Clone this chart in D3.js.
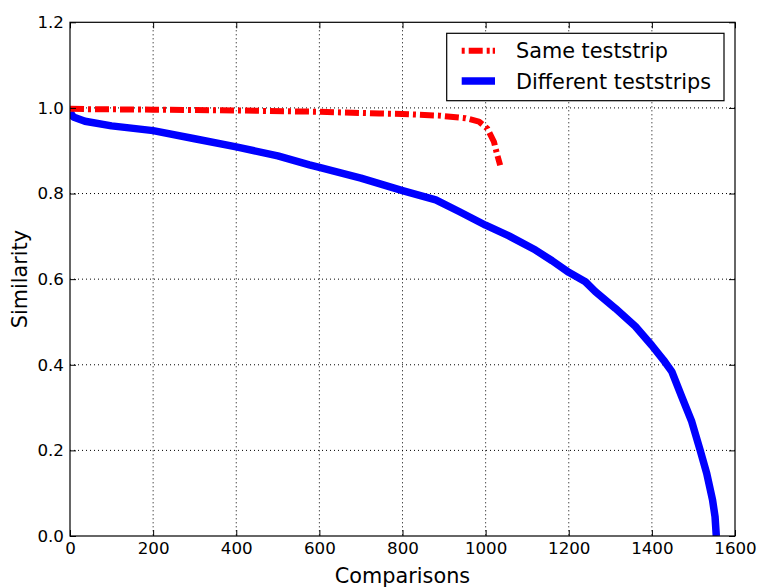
<!DOCTYPE html>
<html>
<head>
<meta charset="utf-8">
<script src="https://cdn.jsdelivr.net/npm/d3@7"></script>
<style>
  html, body { margin: 0; padding: 0; background: #fff; }
  svg { display: block; font-family: "DejaVu Sans", sans-serif; }
</style>
</head>
<body>
<svg id="chart" width="762" height="587"></svg>
<script>
// Similarity scores sorted in descending order, sampled along the comparison index
const sameComparisons = [0, 50, 200, 400, 600, 744, 800, 888, 952, 984, 1004, 1020, 1028, 1035];
const sameSimilarity  = [0.998, 0.997, 0.996, 0.994, 0.991, 0.987, 0.986, 0.982, 0.976, 0.968, 0.952, 0.921, 0.890, 0.866];

const diffComparisons = [0, 8, 36, 100, 200, 300, 400, 500, 576, 600, 700, 800, 880, 936, 1000, 1056, 1120, 1160, 1200, 1240, 1264, 1312, 1360, 1400, 1428, 1448, 1472, 1496, 1516, 1532, 1546, 1552, 1555];
const diffSimilarity  = [0.99, 0.979, 0.969, 0.958, 0.947, 0.928, 0.909, 0.888, 0.867, 0.861, 0.836, 0.807, 0.785, 0.758, 0.726, 0.701, 0.668, 0.643, 0.616, 0.594, 0.571, 0.532, 0.490, 0.445, 0.411, 0.384, 0.325, 0.267, 0.201, 0.146, 0.084, 0.045, 0.0];

const xTicks = [0, 200, 400, 600, 800, 1000, 1200, 1400, 1600];
const yTicks = [0.0, 0.2, 0.4, 0.6, 0.8, 1.0, 1.2];

const seriesNames = ["Same teststrip", "Different teststrips"];

const svg = d3.select("#chart");
const plotLeft = 70, plotRight = 735, plotTop = 22.3, plotBottom = 536;

const x = d3.scaleLinear().domain([0, 1600]).range([plotLeft, plotRight]);
const y = d3.scaleLinear().domain([0, 1.2]).range([plotBottom, plotTop]);

// Dotted grid
const grid = svg.append("g");
grid.selectAll("line.gx").data(xTicks.slice(1, -1)).join("line")
  .attr("x1", d => x(d)).attr("x2", d => x(d))
  .attr("y1", plotTop).attr("y2", plotBottom)
  .attr("stroke", "#000").attr("stroke-width", 1).attr("stroke-dasharray", "1,3");
grid.selectAll("line.gy").data(yTicks.slice(1, -1)).join("line")
  .attr("x1", plotLeft).attr("x2", plotRight)
  .attr("y1", d => y(d)).attr("y2", d => y(d))
  .attr("stroke", "#000").attr("stroke-width", 1).attr("stroke-dasharray", "1,3");

// Curves
const plot = svg.append("g");
plot.append("defs").append("clipPath").attr("id", "clip")
  .append("rect").attr("x", plotLeft).attr("y", plotTop)
  .attr("width", plotRight - plotLeft).attr("height", plotBottom - plotTop);

const line = d3.line().x(d => x(d[0])).y(d => y(d[1]));

const diffData = diffComparisons.map((c, i) => [c, diffSimilarity[i]]);
const sameData = sameComparisons.map((c, i) => [c, sameSimilarity[i]]);

plot.append("path").datum(diffData)
  .attr("clip-path", "url(#clip)")
  .attr("d", line).attr("fill", "none")
  .attr("stroke", "#0000ff").attr("stroke-width", 7.5)
  .attr("stroke-linejoin", "round").attr("stroke-linecap", "butt");

plot.append("path").datum(sameData)
  .attr("clip-path", "url(#clip)")
  .attr("d", line).attr("fill", "none")
  .attr("stroke", "#ff0000").attr("stroke-width", 6)
  .attr("stroke-dasharray", "14,4,3,4")
  .attr("stroke-linejoin", "round").attr("stroke-linecap", "butt");

// Axes: ticks point inward on all four sides
const tickLen = 6;
const xAxisB = d3.axisBottom(x).tickValues(xTicks).tickSizeInner(-tickLen).tickSizeOuter(0).tickPadding(6).tickFormat(d3.format("d"));
const xAxisT = d3.axisTop(x).tickValues(xTicks).tickSizeInner(-tickLen).tickSizeOuter(0).tickFormat("");
const yAxisL = d3.axisLeft(y).tickValues(yTicks).tickSizeInner(-tickLen).tickSizeOuter(0).tickPadding(6).tickFormat(d3.format(".1f"));
const yAxisR = d3.axisRight(y).tickValues(yTicks).tickSizeInner(-tickLen).tickSizeOuter(0).tickFormat("");

function styleAxis(g) {
  g.select(".domain").remove();
  g.selectAll(".tick line").attr("stroke", "#000").attr("stroke-width", 1);
  g.selectAll(".tick text").attr("fill", "#000").attr("font-size", "16.7px")
    .attr("font-family", "DejaVu Sans, sans-serif");
}

svg.append("g").attr("transform", `translate(0,${plotBottom})`).call(xAxisB).call(styleAxis);
svg.append("g").attr("transform", `translate(0,${plotTop})`).call(xAxisT).call(styleAxis);
svg.append("g").attr("transform", `translate(${plotLeft},0)`).call(yAxisL).call(styleAxis);
svg.append("g").attr("transform", `translate(${plotRight},0)`).call(yAxisR).call(styleAxis);

// Frame
svg.append("rect").attr("x", plotLeft).attr("y", plotTop)
  .attr("width", plotRight - plotLeft).attr("height", plotBottom - plotTop)
  .attr("fill", "none").attr("stroke", "#000").attr("stroke-width", 1.2);

// Axis labels
svg.append("text").attr("x", (plotLeft + plotRight) / 2).attr("y", 583)
  .attr("text-anchor", "middle").attr("font-size", "20.8px").text("Comparisons");
svg.append("text").attr("transform", `translate(27,${(plotTop + plotBottom) / 2}) rotate(-90)`)
  .attr("text-anchor", "middle").attr("font-size", "20.8px").text("Similarity");

// Legend
const legend = svg.append("g");
legend.append("rect").attr("x", 446.7).attr("y", 33.3).attr("width", 277.3).attr("height", 67.4)
  .attr("fill", "#fff").attr("stroke", "#000").attr("stroke-width", 1.2);
const legendStyles = [
  { color: "#ff0000", width: 6, dash: "3,4,14,4,3" },
  { color: "#0000ff", width: 7.5, dash: null }
];
const legendRows = [50.7, 81];
seriesNames.forEach((name, i) => {
  const ln = legend.append("line")
    .attr("x1", 461.7).attr("x2", 495).attr("y1", legendRows[i]).attr("y2", legendRows[i])
    .attr("stroke", legendStyles[i].color).attr("stroke-width", legendStyles[i].width);
  if (legendStyles[i].dash) ln.attr("stroke-dasharray", legendStyles[i].dash);
  legend.append("text").attr("x", 516).attr("y", legendRows[i] + 7.5)
    .attr("font-size", "20.8px").text(name);
});
</script>
</body>
</html>
